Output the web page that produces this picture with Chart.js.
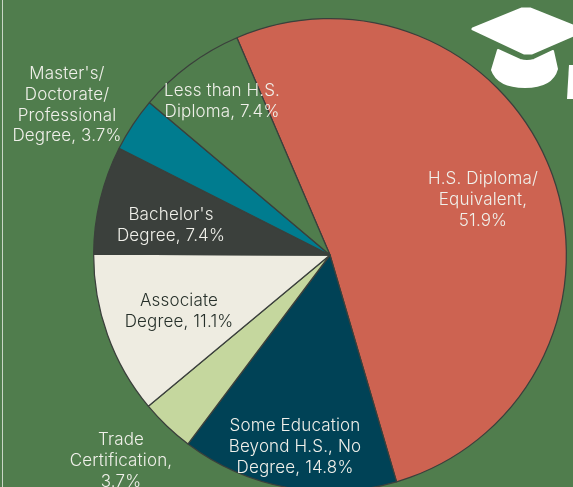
<!DOCTYPE html>
<html>
<head>
<meta charset="utf-8">
<script src="https://cdn.jsdelivr.net/npm/chart.js@4"></script>
<style>
  html, body { margin: 0; padding: 0; width: 573px; height: 487px; overflow: hidden; background: #507d4d; }
  #wrap { position: absolute; left: 0; top: 0; width: 573px; height: 510px; }
  #edge { position: absolute; left: 2px; top: 0; width: 1px; height: 487px; background: #c9d6c6; }
</style>
</head>
<body>
<div id="wrap"><canvas id="pie"></canvas></div>
<div id="edge"></div>
<script>
const categories = ['H.S. Diploma/ Equivalent', 'Some Education Beyond H.S., No Degree', 'Trade Certification',
  'Associate Degree', "Bachelor's Degree", "Master's/ Doctorate/ Professional Degree", 'Less than H.S. Diploma'];
const shares = [51.9, 14.8, 3.7, 11.1, 7.4, 3.7, 7.4];
const sliceColors = ['#cd6351', '#004256', '#c5d79e', '#eeece1', '#3b403c', '#007c8f', '#507d4d'];

// label lines per slice, same order as categories
const labelLines = [
  ['H.S. Diploma/', 'Equivalent,', '51.9%'],
  ['Some Education', 'Beyond H.S., No', 'Degree, 14.8%'],
  ['Trade', 'Certification,', '3.7%'],
  ['Associate', 'Degree, 11.1%'],
  ["Bachelor's", 'Degree, 7.4%'],
  ["Master's/", 'Doctorate/', 'Professional', 'Degree, 3.7%'],
  ['Less than H.S.', 'Diploma, 7.4%']
];
const labelColors = ['#f0f0ea', '#f0f0ea', '#f0f0ea', '#26302a', '#f0f0ea', '#f0f0ea', '#f0f0ea'];
// where each label block is centred
const labelCenters = [[483, 200], [295, 447], [121, 461], [179, 311], [171, 225], [67, 105], [222, 101]];

const sliceLabels = {
  id: 'sliceLabels',
  afterDraw(chart) {
    const ctx = chart.ctx;
    ctx.save();
    ctx.font = '300 17px Inter';
    ctx.letterSpacing = '0.15px';
    ctx.textAlign = 'center';
    ctx.textBaseline = 'middle';
    labelLines.forEach((lines, i) => {
      ctx.fillStyle = labelColors[i];
      const [cx, cy] = labelCenters[i];
      lines.forEach((line, j) => {
        ctx.fillText(line, cx, cy + (j - (lines.length - 1) / 2) * 20.8);
      });
    });
    ctx.restore();
  }
};

// graduation cap in the top right corner
const capIcon = {
  id: 'capIcon',
  afterDraw(chart) {
    const ctx = chart.ctx;
    ctx.save();
    ctx.fillStyle = '#ffffff';
    ctx.strokeStyle = '#ffffff';
    ctx.lineJoin = 'round';
    ctx.lineWidth = 3;
    ctx.beginPath();
    ctx.moveTo(522, 9);
    ctx.lineTo(530, 9);
    ctx.lineTo(573, 26);
    ctx.lineTo(573, 35);
    ctx.lineTo(532, 53);
    ctx.lineTo(524, 53);
    ctx.lineTo(473, 29);
    ctx.closePath();
    ctx.fill();
    ctx.stroke();
    ctx.lineWidth = 2;
    ctx.beginPath();
    ctx.moveTo(498, 50);
    ctx.lineTo(520, 60);
    ctx.quadraticCurveTo(527, 62, 534, 60);
    ctx.lineTo(553, 51);
    ctx.lineTo(557, 69);
    ctx.quadraticCurveTo(552, 87, 525, 87);
    ctx.quadraticCurveTo(498, 87, 492, 70);
    ctx.closePath();
    ctx.fill();
    ctx.stroke();
    ctx.beginPath();
    ctx.moveTo(569, 65);
    ctx.lineTo(573, 65);
    ctx.lineTo(573, 99);
    ctx.lineTo(567, 99);
    ctx.closePath();
    ctx.fill();
    ctx.restore();
  }
};

new Chart(document.getElementById('pie'), {
  type: 'pie',
  data: {
    labels: categories,
    datasets: [{
      data: shares,
      backgroundColor: sliceColors,
      borderColor: '#3b403c',
      borderWidth: 1.25
    }]
  },
  options: {
    responsive: true,
    maintainAspectRatio: false,
    animation: false,
    rotation: -23.2,
    layout: { padding: { left: 93, right: 6, top: 18, bottom: 18 } },
    plugins: { legend: { display: false }, tooltip: { enabled: false } }
  },
  plugins: [sliceLabels, capIcon]
});
</script>
</body>
</html>
